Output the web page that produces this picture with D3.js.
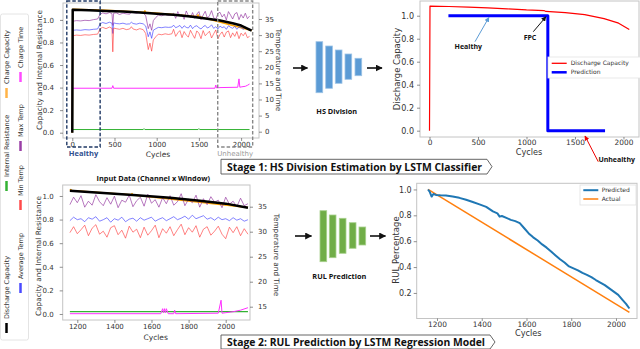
<!DOCTYPE html>
<html>
<head>
<meta charset="utf-8">
<script src="https://cdn.jsdelivr.net/npm/d3@7"></script>
<style>
body { margin: 0; background: #fff; }
svg { display: block; font-family: "DejaVu Sans", sans-serif; }
</style>
</head>
<body>
<script>
// ---------- data: stage 1 input (full life) ----------
var topCycles = [0, 5, 50, 100, 150, 200, 250, 300, 330, 360,
	400, 440, 470, 480, 490, 520, 560, 600, 640, 680,
	700, 720, 760, 800, 840, 870, 900, 920, 940, 960,
	990, 1020, 1060, 1100, 1140, 1180, 1200, 1225, 1250, 1275,
	1300, 1325, 1350, 1375, 1400, 1425, 1450, 1475, 1500, 1525,
	1550, 1575, 1600, 1625, 1650, 1675, 1700, 1725, 1750, 1775,
	1800, 1825, 1850, 1875, 1900, 1925, 1950, 1975, 2000, 2025,
	2050, 2075, 2100];
var topMaxTemp = [0, 34.3, 34.5, 34.4, 34.6, 34.5, 34.8, 35.0, 36.5, 36.9,
	36.6, 37.0, 36.7, 33.0, 36.8, 36.9, 36.4, 36.8, 36.6, 36.5,
	37.2, 37.0, 36.8, 37.1, 36.9, 36.0, 32.0, 33.5, 31.5, 34.5,
	35.5, 36.2, 36.0, 36.4, 36.1, 36.3, 36.8, 35.2, 37.3, 35.9,
	36.4, 34.9, 37.5, 36.1, 35.4, 37.0, 35.2, 36.5, 37.3, 34.8,
	36.2, 37.4, 35.3, 36.0, 37.6, 35.4, 34.9, 36.7, 37.1, 35.6,
	36.5, 34.7, 37.3, 36.2, 35.0, 36.6, 37.0, 34.8, 36.4, 35.3,
	36.8, 35.1, 35.9];
var topAvgTemp = [0, 31.5, 31.6, 31.5, 31.7, 31.6, 31.8, 31.9, 33.5, 33.9,
	33.6, 34.0, 33.7, 30.5, 33.8, 33.6, 33.5, 33.7, 33.4, 33.5,
	34.0, 33.6, 33.4, 33.7, 33.5, 32.8, 29.5, 31.0, 29.0, 31.5,
	32.0, 32.4, 32.3, 32.5, 32.4, 32.5, 33.1, 32.3, 32.6, 33.0,
	32.1, 32.9, 32.4, 32.2, 33.1, 32.0, 32.7, 32.9, 32.3, 31.9,
	32.6, 33.0, 32.2, 32.5, 33.2, 32.1, 32.6, 31.9, 32.8, 32.3,
	32.6, 31.8, 32.9, 32.4, 32.1, 32.7, 31.8, 32.5, 32.4, 31.7,
	32.5, 31.9, 32.0];
var topMinTemp = [0, 29.8, 30.0, 29.9, 30.1, 30.0, 30.2, 30.3, 32.0, 32.4,
	32.0, 32.5, 32.1, 24.8, 32.2, 32.0, 31.8, 32.1, 31.7, 31.9,
	32.6, 31.9, 31.6, 32.0, 31.7, 30.5, 25.5, 27.5, 25.0, 28.5,
	29.5, 30.3, 30.1, 30.4, 30.2, 30.4, 31.8, 29.6, 30.7, 31.4,
	29.2, 31.1, 30.0, 29.4, 31.5, 30.2, 29.0, 31.3, 30.6, 28.9,
	31.4, 29.8, 30.5, 31.2, 29.1, 30.4, 31.6, 28.8, 30.2, 31.0,
	29.4, 30.9, 31.3, 29.2, 30.7, 29.6, 31.1, 28.9, 30.6, 29.8,
	30.8, 29.2, 29.6];
var topCapCycles = [0, 5, 200, 400, 600, 800, 1000, 1200, 1400, 1600, 1750, 1900, 2000, 2125];
var topCapValues = [0, 1.09, 1.085, 1.08, 1.075, 1.065, 1.055, 1.045, 1.03, 1.01, 0.995, 0.97, 0.95, 0.905];
var topChgCapCycles = [0, 5, 400, 850, 860, 870, 1200, 1480, 1490, 1500, 2125];
var topChgCapValues = [0, 1.095, 1.085, 1.067, 1.08, 1.067, 1.047, 1.03, 1.045, 1.03, 0.907];
var topResCycles = [0, 840, 850, 860, 1490, 1500, 1510, 2100];
var topResValues = [0.028, 0.028, 0.036, 0.028, 0.028, 0.036, 0.028, 0.028];
var topTimeCycles = [0, 470, 480, 490, 1690, 1700, 1710, 1750, 1960, 1975, 1985, 2000, 2050, 2075, 2100];
var topTimeValues = [13.5, 13.5, 14.3, 13.5, 13.5, 14.5, 13.6, 13.7, 13.8, 16.4, 13.8, 13.9, 14.1, 14.4, 14.8];
var healthyRange = [-65, 330];
var unhealthyRange = [1723, 2137];

// ---------- data: stage 1 output ----------
var dcCycles = [0, 5, 200, 400, 600, 800, 1000, 1180, 1200, 1400, 1600, 1800, 1950, 2060];
var dcValues = [0, 1.084, 1.08, 1.075, 1.068, 1.06, 1.05, 1.045, 1.037, 1.027, 1.01, 0.975, 0.935, 0.88];
var predCycles = [195, 1220, 1220, 1810];
var predValues = [1, 1, 0, 0];

// ---------- data: stage 2 input (window) ----------
var botCycles = [1160, 1180, 1200, 1220, 1240, 1260, 1280, 1300, 1320, 1340,
	1360, 1380, 1400, 1420, 1440, 1460, 1480, 1500, 1520, 1540,
	1560, 1580, 1600, 1620, 1640, 1660, 1680, 1700, 1720, 1740,
	1760, 1780, 1800, 1820, 1840, 1860, 1880, 1900, 1920, 1940,
	1960, 1980, 2000, 2020, 2040, 2060, 2080, 2100, 2120];
var botMaxTemp = [35.4, 36.9, 35.8, 37.2, 34.9, 36.1, 35.3, 37.4, 36.0, 35.2,
	36.8, 35.5, 37.1, 34.8, 36.3, 35.9, 37.3, 35.0, 36.2, 36.9,
	35.1, 37.5, 35.7, 36.4, 34.9, 36.8, 35.6, 37.2, 35.3, 36.0,
	37.6, 35.2, 36.5, 35.8, 37.3, 34.9, 36.6, 35.4, 37.0, 35.9,
	36.3, 34.8, 36.9, 35.5, 36.1, 35.0, 36.7, 35.2, 35.6];
var botAvgTemp = [32.2, 32.9, 32.4, 32.6, 32.0, 32.8, 32.5, 33.0, 32.1, 32.4,
	32.8, 31.9, 32.6, 32.3, 32.9, 32.0, 32.5, 32.7, 32.1, 32.8,
	32.3, 32.6, 32.9, 32.1, 32.5, 32.8, 32.2, 32.6, 33.0, 32.4,
	32.7, 33.1, 32.5, 33.3, 32.6, 32.9, 33.2, 32.5, 32.8, 32.3,
	32.9, 32.4, 32.6, 32.2, 32.8, 32.3, 32.6, 32.1, 32.4];
var botMinTemp = [29.8, 31.0, 29.6, 30.4, 31.3, 29.2, 30.7, 31.4, 29.5, 30.1,
	28.9, 30.8, 31.2, 29.4, 30.3, 28.7, 31.1, 29.9, 30.5, 28.8,
	30.9, 29.3, 30.2, 31.3, 28.8, 30.6, 29.7, 31.0, 29.2, 30.4,
	31.5, 29.4, 30.8, 29.9, 31.2, 28.9, 30.5, 31.0, 29.3, 30.1,
	31.1, 29.5, 28.6, 30.9, 29.8, 31.0, 29.2, 30.6, 29.5];
var botCapCycles = [1160, 1300, 1500, 1700, 1860, 2000, 2120];
var botCapValues = [1.045, 1.03, 1.008, 0.985, 0.96, 0.935, 0.9];
var botChgCapCycles = [1160, 1165, 1170, 1490, 1495, 1500, 2120];
var botChgCapValues = [1.047, 1.055, 1.046, 1.01, 1.02, 1.009, 0.902];
var botResCycles = [1160, 2120];
var botResValues = [0.02, 0.02];
var botTimeCycles = [1160, 1650, 1660, 1665, 1670, 1675, 1680, 1690, 1720, 1725, 1730, 1960, 1975, 1980, 2000, 2040, 2080, 2120];
var botTimeValues = [13.6, 13.6, 14.6, 13.8, 14.6, 13.8, 14.6, 13.6, 13.6, 14.3, 13.6, 13.7, 16.3, 13.7, 13.8, 14.0, 14.3, 14.8];

// ---------- data: stage 2 output ----------
var rulCycles = [1160, 1168, 1176, 1184, 1195, 1215, 1240, 1270, 1300, 1330,
	1360, 1390, 1420, 1450, 1470, 1480, 1490, 1510, 1530, 1550,
	1570, 1590, 1610, 1630, 1650, 1670, 1690, 1710, 1730, 1750,
	1770, 1790, 1810, 1830, 1850, 1870, 1890, 1910, 1930, 1950,
	1970, 1990, 2010, 2030, 2045, 2060];
var rulPredicted = [1.0, 0.98, 0.945, 0.965, 0.958, 0.955, 0.953, 0.945, 0.935, 0.92,
	0.903, 0.885, 0.865, 0.83, 0.815, 0.79, 0.795, 0.78, 0.765, 0.755,
	0.74, 0.7, 0.66, 0.63, 0.605, 0.575, 0.55, 0.52, 0.49, 0.46,
	0.435, 0.405, 0.39, 0.375, 0.355, 0.34, 0.322, 0.3, 0.28, 0.26,
	0.235, 0.21, 0.185, 0.145, 0.115, 0.08];
var rulActualCycles = [1160, 2060];
var rulActual = [1.0, 0.05];

// ---------- tick labels ----------
var capTicks = [0, 0.2, 0.4, 0.6, 0.8, 1.0];
var rulTicks = [0.2, 0.4, 0.6, 0.8, 1.0];
var tempTicksTop = [0, 5, 10, 15, 20, 25, 30, 35];
var tempTicksBot = [15, 20, 25, 30, 35];
var lifeTicks = [0, 500, 1000, 1500, 2000];
var windowTicks = [1200, 1400, 1600, 1800, 2000];

var svg = d3.select("body").append("svg").attr("width", 640).attr("height", 349);

var defs = svg.append("defs");
function marker(id, color, size) {
	defs.append("marker").attr("id", id).
	attr("viewBox", "0 0 10 10").attr("refX", 9).attr("refY", 5).
	attr("markerUnits", "userSpaceOnUse").
	attr("markerWidth", size).attr("markerHeight", size).
	attr("orient", "auto").
	append("path").attr("d", "M0,0L10,5L0,10Z").attr("fill", color);
}
marker("ah-black", "#111", 7);
marker("ah-small", "#111", 5);
marker("ah-blue", "#5b9bd5", 5);
marker("ah-red", "#e00", 5);

function styleAxis(g, fs) {
	g.select(".domain").remove();
	g.attr("font-family", "DejaVu Sans, sans-serif").attr("font-size", fs);
	g.selectAll(".tick line").attr("stroke", "#444").attr("stroke-width", 0.6);
	g.selectAll(".tick text").attr("fill", "#333");
}

function drawLine(g, x, y, cyc, vals, color, w, op) {
	g.append("path").
	datum(d3.zip(cyc, vals)).
	attr("fill", "none").
	attr("stroke", color).
	attr("stroke-width", w).
	attr("stroke-opacity", op).
	attr("stroke-linejoin", "round").
	attr("d", d3.line().x(function (d) {return x(d[0]);}).y(function (d) {return y(d[1]);}));
}

function frame(l, t, r, b) {
	svg.append("rect").attr("x", l).attr("y", t).attr("width", r - l).attr("height", b - t).
	attr("fill", "none").attr("stroke", "#c4c4c4").attr("stroke-width", 1);
}

function vText(x, y, txt, fs, rot) {
	svg.append("text").attr("transform", "translate(" + x + "," + y + ") rotate(" + rot + ")").
	attr("text-anchor", "middle").attr("dy", "0.35em").
	style("font-size", fs + "px").attr("fill", "#333").text(txt);
}

function hText(x, y, txt, fs) {
	return svg.append("text").attr("x", x).attr("y", y).attr("text-anchor", "middle").
	attr("dy", "0.35em").style("font-size", fs + "px").attr("fill", "#333").text(txt);
}

function bold(x, y, txt, fs, color, anchor) {
	return svg.append("text").attr("x", x).attr("y", y).attr("dy", "0.35em").
	attr("text-anchor", anchor || "middle").
	style("font-family", "'Open Sans', sans-serif").style("font-weight", 700).
	style("font-size", fs + "px").attr("fill", color).text(txt);
}

var intFmt = d3.format("d");
var capFmt = d3.format(".1f");

// =============== Panel 1: full life input ===============
var x1 = d3.scaleLinear().domain([-110, 2212]).range([63, 259]);
var y1 = d3.scaleLinear().domain([-0.047, 1.15]).range([138, 3]);
var y1r = d3.scaleLinear().domain([-1.96, 39.97]).range([138, 3]);
frame(63, 3, 259, 138);
var p1 = svg.append("g");
drawLine(p1, x1, y1, topResCycles, topResValues, "#33b233", 1, 1);
drawLine(p1, x1, y1, topChgCapCycles, topChgCapValues, "#ffa500", 1.5, 1);
drawLine(p1, x1, y1r, topCycles, topAvgTemp, "#2f2fff", 0.8, 0.75);
drawLine(p1, x1, y1r, topCycles, topMinTemp, "#ff2f2f", 0.8, 0.75);
drawLine(p1, x1, y1r, topCycles, topMaxTemp, "#8e2a9a", 0.8, 0.8);
drawLine(p1, x1, y1r, topTimeCycles, topTimeValues, "#ff2fff", 1, 1);
drawLine(p1, x1, y1, topCapCycles, topCapValues, "#000", 2.5, 1);

var ax1 = svg.append("g").attr("transform", "translate(0,138)").
call(d3.axisBottom(x1).tickValues(lifeTicks).tickFormat(intFmt).tickSize(3).tickPadding(1.5));
styleAxis(ax1, 7);
var ay1 = svg.append("g").attr("transform", "translate(63,0)").
call(d3.axisLeft(y1).tickValues(capTicks).tickFormat(capFmt).tickSize(3).tickPadding(6));
styleAxis(ay1, 7);
var ay1r = svg.append("g").attr("transform", "translate(259,0)").
call(d3.axisRight(y1r).tickValues(tempTicksTop).tickSize(3).tickPadding(3));
styleAxis(ay1r, 7);
vText(39, 70, "Capacity and Internal Resistance", 7.3, -90);
vText(279, 70, "Temperature and Time", 7.3, 90);
hText(158, 154, "Cycles", 7.5);

// healthy / unhealthy phases
svg.append("rect").attr("x", x1(healthyRange[0])).attr("y", 1).
attr("width", x1(healthyRange[1]) - x1(healthyRange[0])).attr("height", 146).
attr("fill", "none").attr("stroke", "#1f3864").attr("stroke-width", 1.4).attr("stroke-dasharray", "3.5,2");
svg.append("rect").attr("x", x1(unhealthyRange[0])).attr("y", 1).
attr("width", x1(unhealthyRange[1]) - x1(unhealthyRange[0])).attr("height", 146).
attr("fill", "none").attr("stroke", "#888").attr("stroke-width", 1.4).attr("stroke-dasharray", "3.5,2");
bold(x1((healthyRange[0] + healthyRange[1]) / 2), 153.5, "Healthy", 7.5, "#2f4f8f");
hText(x1((unhealthyRange[0] + unhealthyRange[1]) / 2), 153.5, "Unhealthy", 7).attr("fill", "#9a9a9a");

// legend (rotated)
svg.append("rect").attr("x", 0.5).attr("y", 14).attr("width", 28).attr("height", 326).
attr("fill", "none").attr("stroke", "#ddd").attr("stroke-width", 0.8).attr("rx", 2);
var legendItems = [
	{label: "Discharge Capacity", color: "#000", x: 6.5, y: 333},
	{label: "Internal Resistance", color: "#33b233", x: 6.5, y: 191},
	{label: "Charge Capacity", color: "#ffb347", x: 6.5, y: 98},
	{label: "Average Temp", color: "#4a4aff", x: 20.5, y: 293},
	{label: "Min Temp", color: "#ff4a4a", x: 20.5, y: 210},
	{label: "Max Temp", color: "#9a3fa6", x: 20.5, y: 151},
	{label: "Charge Time", color: "#ff4aff", x: 20.5, y: 82}
];
legendItems.forEach(function (d) {
	svg.append("line").attr("x1", d.x).attr("x2", d.x).attr("y1", d.y).attr("y2", d.y - 10).
	attr("stroke", d.color).attr("stroke-width", 2.5);
	svg.append("text").attr("transform", "translate(" + d.x + "," + (d.y - 14) + ") rotate(-90)").
	attr("dy", "0.35em").style("font-size", "6.5px").attr("fill", "#333").text(d.label);
});

// =============== Panel 2: HS division output ===============
var x2 = d3.scaleLinear().domain([-98, 2160]).range([420, 639]);
var y2 = d3.scaleLinear().domain([-0.055, 1.128]).range([137, 1]);
frame(420, 1, 639, 137);
var p2 = svg.append("g");
drawLine(p2, x2, y2, dcCycles, dcValues, "#f00", 1.2, 1);
drawLine(p2, x2, y2, predCycles, predValues, "#0000ff", 3, 1);
var ax2 = svg.append("g").attr("transform", "translate(0,137)").
call(d3.axisBottom(x2).tickValues(lifeTicks).tickFormat(intFmt).tickSize(2.5).tickPadding(0.5));
styleAxis(ax2, 7.4);
var ay2 = svg.append("g").attr("transform", "translate(420,0)").
call(d3.axisLeft(y2).tickValues(capTicks).tickFormat(capFmt).tickSize(3).tickPadding(3));
styleAxis(ay2, 8);
vText(397, 69, "Discharge Capacity", 8.5, -90);
hText(529, 152.3, "Cycles", 8.2);

// annotations
var notes = [
	{label: "Healthy", tx: 400, ty: 0.73, fx: 469, fy: 0.774, hx: 613, hy: 0.986, m: "ah-blue", c: "#5b9bd5"},
	{label: "FPC", tx: 1036, ty: 0.81, fx: 1070, fy: 0.861, hx: 1201, hy: 0.991, m: "ah-small", c: "#111"},
	{label: "Unhealthy", tx: 1930, ty: -0.25, fx: 1740, fy: -0.27, hx: 1603, hy: -0.046, m: "ah-red", c: "#e00"}
];
notes.forEach(function (d) {
	svg.append("line").attr("x1", x2(d.fx)).attr("y1", y2(d.fy)).attr("x2", x2(d.hx)).attr("y2", y2(d.hy)).
	attr("stroke", d.c).attr("stroke-width", 1).attr("marker-end", "url(#" + d.m + ")");
	bold(x2(d.tx), y2(d.ty), d.label, 7, "#111");
});

svg.append("rect").attr("x", 548).attr("y", 57).attr("width", 100).attr("height", 21).
attr("fill", "#fff").attr("stroke", "#e4e4e4").attr("stroke-width", 0.8);
[["Discharge Capacity", "#f00", 63.3, 1.3], ["Prediction", "#0000ff", 72.3, 2.5]].forEach(function (d) {
	svg.append("line").attr("x1", 551.7).attr("x2", 566.7).attr("y1", d[2]).attr("y2", d[2]).
	attr("stroke", d[1]).attr("stroke-width", d[3]);
	svg.append("text").attr("x", 570.7).attr("y", d[2]).attr("dy", "0.35em").
	style("font-size", "6px").attr("fill", "#333").text(d[0]);
});

// =============== Panel 3: window input ===============
var x3 = d3.scaleLinear().domain([1121.3, 2131]).range([62.7, 250]);
var y3 = d3.scaleLinear().domain([-0.051, 1.093]).range([320, 185]);
var y3r = d3.scaleLinear().domain([12.34, 39.34]).range([320, 185]);
frame(62.7, 185, 250, 320);
var p3 = svg.append("g");
drawLine(p3, x3, y3, botResCycles, botResValues, "#33b233", 1.2, 1);
drawLine(p3, x3, y3, botChgCapCycles, botChgCapValues, "#ffa500", 1.5, 1);
drawLine(p3, x3, y3r, botCycles, botAvgTemp, "#2f2fff", 0.8, 0.75);
drawLine(p3, x3, y3r, botCycles, botMinTemp, "#ff2f2f", 0.8, 0.75);
drawLine(p3, x3, y3r, botCycles, botMaxTemp, "#8e2a9a", 0.8, 0.8);
drawLine(p3, x3, y3r, botTimeCycles, botTimeValues, "#ff2fff", 1, 1);
drawLine(p3, x3, y3, botCapCycles, botCapValues, "#000", 2.5, 1);
var ax3 = svg.append("g").attr("transform", "translate(0,320)").
call(d3.axisBottom(x3).tickValues(windowTicks).tickFormat(intFmt).tickSize(3).tickPadding(1.5));
styleAxis(ax3, 7);
var ay3 = svg.append("g").attr("transform", "translate(62.7,0)").
call(d3.axisLeft(y3).tickValues(capTicks).tickFormat(capFmt).tickSize(3).tickPadding(6));
styleAxis(ay3, 7);
var ay3r = svg.append("g").attr("transform", "translate(250,0)").
call(d3.axisRight(y3r).tickValues(tempTicksBot).tickSize(3).tickPadding(5));
styleAxis(ay3r, 7);
vText(38.3, 256, "Capacity and Internal Resistance", 7.3, -90);
vText(277, 255, "Temperature and Time", 7.3, 90);
hText(155.7, 337, "Cycles", 7.5);
bold(153.3, 178.3, "Input Data (Channel x Window)", 7.3, "#111");

// =============== Panel 4: RUL output ===============
var x4 = d3.scaleLinear().domain([1109.3, 2093.9]).range([416.7, 637]);
var y4 = d3.scaleLinear().domain([0.0025, 1.0475]).range([318.5, 183.3]);
frame(416.7, 183.3, 637, 318.5);
var p4 = svg.append("g");
drawLine(p4, x4, y4, rulActualCycles, rulActual, "#ff7f0e", 1.5, 1);
drawLine(p4, x4, y4, rulCycles, rulPredicted, "#1f77b4", 2, 1);
var ax4 = svg.append("g").attr("transform", "translate(0,318.5)").
call(d3.axisBottom(x4).tickValues(windowTicks).tickFormat(intFmt).tickSize(2.5).tickPadding(0.5));
styleAxis(ax4, 7.4);
var ay4 = svg.append("g").attr("transform", "translate(416.7,0)").
call(d3.axisLeft(y4).tickValues(rulTicks).tickFormat(capFmt).tickSize(3).tickPadding(2));
styleAxis(ay4, 8);
vText(396, 250, "RUL Percentage", 8.5, -90);
hText(528.3, 333.6, "Cycles", 8.2);

svg.append("rect").attr("x", 580).attr("y", 185).attr("width", 56).attr("height", 20).
attr("fill", "#fff").attr("stroke", "#e0e0e0").attr("stroke-width", 0.8);
[["Predicted", "#1f77b4", 190.2, 2], ["Actual", "#ff7f0e", 199, 1.5]].forEach(function (d) {
	svg.append("line").attr("x1", 583.3).attr("x2", 598.3).attr("y1", d[2]).attr("y2", d[2]).
	attr("stroke", d[1]).attr("stroke-width", d[3]);
	svg.append("text").attr("x", 601.7).attr("y", d[2]).attr("dy", "0.35em").
	style("font-size", "6px").attr("fill", "#333").text(d[0]);
});

// =============== network icons and flow arrows ===============
var hsBars = [[316, 41.7, 92.7], [325.7, 46, 88.3], [335.3, 50, 83.3], [345, 54, 79.3], [355, 58.3, 75.7]];
var rulBars = [[320, 210.7, 261.7], [329.3, 215, 257.7], [339.3, 218.3, 253.3], [349.3, 222.7, 248.3], [359, 227, 245]];
hsBars.forEach(function (b) {
	svg.append("rect").attr("x", b[0]).attr("y", b[1]).attr("width", 6.7).attr("height", b[2] - b[1]).
	attr("fill", "#5b9bd5").attr("stroke", "#9dc3e6").attr("stroke-width", 0.8);
});
rulBars.forEach(function (b) {
	svg.append("rect").attr("x", b[0]).attr("y", b[1]).attr("width", 6.7).attr("height", b[2] - b[1]).
	attr("fill", "#70ad47").attr("stroke", "#a9d18e").attr("stroke-width", 0.8);
});
bold(336.7, 111, "HS Division", 7.3, "#111");
bold(339.3, 276.5, "RUL Prediction", 7.3, "#111");
[[293, 307.5, 68], [367, 382, 68], [295, 311.5, 236], [370, 385.5, 236]].forEach(function (a) {
	svg.append("line").attr("x1", a[0]).attr("x2", a[1]).attr("y1", a[2]).attr("y2", a[2]).
	attr("stroke", "#111").attr("stroke-width", 1.6).attr("marker-end", "url(#ah-black)");
});

// =============== stage banners ===============
function banner(y0, y1b, xEnd, txt, tl) {
	var ym = (y0 + y1b) / 2;
	svg.append("path").
	attr("d", "M221," + y0 + "L" + xEnd + "," + y0 + "L" + (xEnd + 5) + "," + ym + "L" + xEnd + "," + y1b + "L221," + y1b + "Z").
	attr("fill", "#fff").attr("stroke", "#555").attr("stroke-width", 0.9);
	bold(227, ym + 0.5, txt, 9.8, "#111", "start").attr("textLength", tl).attr("lengthAdjust", "spacingAndGlyphs");
}
banner(159.3, 174, 487, "Stage 1: HS Division Estimation by LSTM Classifier", 255);
banner(335, 349, 490, "Stage 2: RUL Prediction by LSTM Regression Model", 258);
</script>
</body>
</html>
